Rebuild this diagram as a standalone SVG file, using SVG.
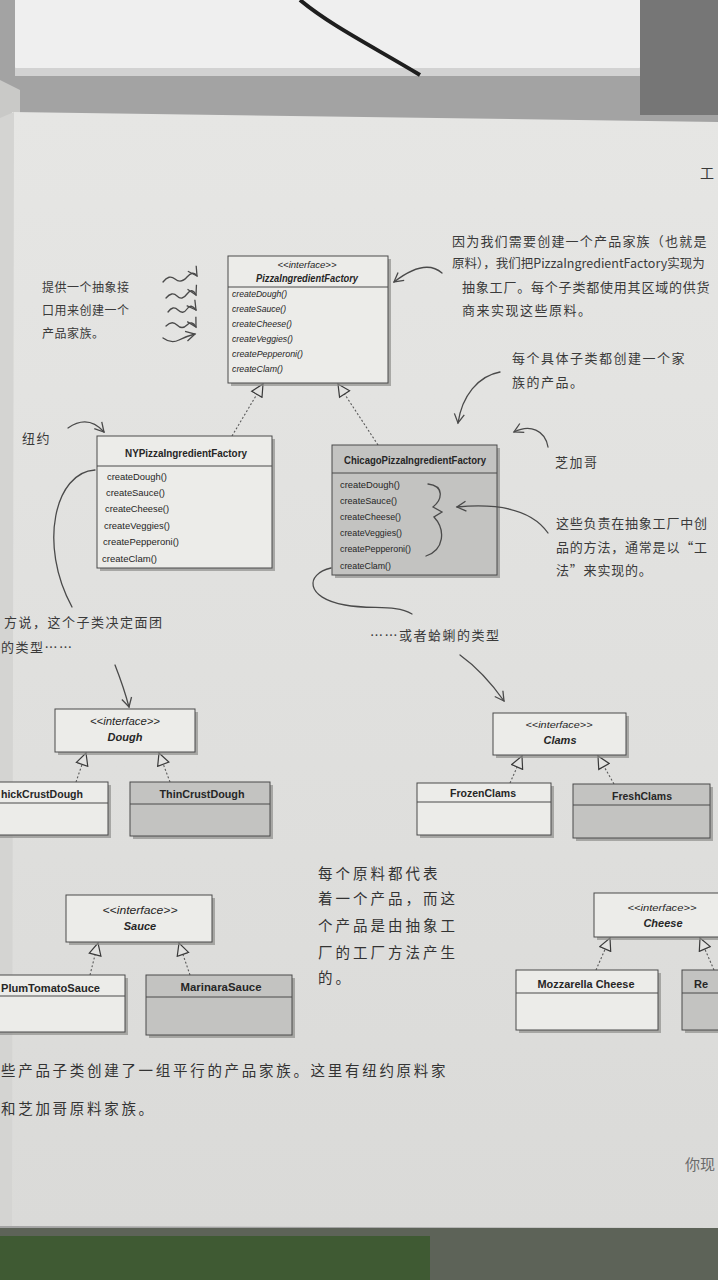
<svg xmlns="http://www.w3.org/2000/svg" width="718" height="1280" viewBox="0 0 718 1280">
<style>
.box{fill:#ecece9;stroke:#4a4a4a;stroke-width:1}
.gbox{fill:#c3c3c1;stroke:#4a4a4a;stroke-width:1}
.shd{fill:#8e8e8c;opacity:0.7}
.div{stroke:#4a4a4a;stroke-width:1}
.t{font-family:"Liberation Sans",Arial,sans-serif;fill:#262626}
.tb{font-weight:bold;font-size:11px}
.ti{font-style:italic;font-size:9.5px}
.m{font-size:9.5px}
.real{fill:none;stroke:#5a5a5a;stroke-width:1.1;stroke-dasharray:2 2}
.hand{fill:none;stroke:#4a4a4a;stroke-width:1.3;stroke-linecap:round}
.cn{font-family:"Noto Sans CJK SC","Noto Sans",sans-serif;fill:#3a3a3a;font-size:13px;letter-spacing:1.5px}
.cn2{font-family:"Noto Sans CJK SC","Noto Sans",sans-serif;fill:#333;font-size:14.5px;letter-spacing:3px}
</style>
<defs>
<marker id="tri" markerUnits="userSpaceOnUse" markerWidth="14" markerHeight="14" refX="12" refY="6" orient="auto" viewBox="-1 -1 14 14">
<path d="M0,0 L12,6 L0,12 Z" fill="#e3e3e1" stroke="#3a3a3a" stroke-width="1.2"/>
</marker>
<marker id="ah" markerUnits="userSpaceOnUse" markerWidth="12" markerHeight="12" refX="9" refY="5" orient="auto" viewBox="-1 -1 12 12">
<path d="M0,0 L9,5 L0,10" fill="none" stroke="#4a4a4a" stroke-width="1.3"/>
</marker>
<linearGradient id="pg" x1="0" y1="0" x2="0" y2="1">
<stop offset="0" stop-color="#e6e6e4"/>
<stop offset="1" stop-color="#dadad8"/>
</linearGradient>
</defs>

<g id="background">
<rect x="0" y="0" width="718" height="1280" fill="#a3a3a3"/>
<rect x="15" y="-10" width="625" height="85" rx="8" fill="#efefef"/>
<rect x="15" y="68" width="625" height="8" fill="#d2d2d2"/>
<rect x="640" y="0" width="78" height="115" fill="#767676"/>
<path d="M300,0 C330,25 370,45 420,75" fill="none" stroke="#1e1e1e" stroke-width="4"/>
<path d="M0,80 L20,90 L20,1200 L0,1205 Z" fill="#c9c9c7"/>
<path d="M12,112 L718,122 L718,1228 L10,1226 Z" fill="url(#pg)"/>
<path d="M0,118 L14,112 L12,1226 L0,1226 Z" fill="#d4d4d2"/>
<rect x="0" y="1228" width="718" height="52" fill="#5d6358"/>
<rect x="0" y="1236" width="430" height="44" fill="#3f5a33"/>
<text x="700" y="178" class="cn" style="font-size:14px;letter-spacing:0">工</text>
<text x="685" y="1170" class="cn" style="font-size:15px;letter-spacing:0;fill:#6a6a6a">你现</text>
</g>

<g id="connectors">
<path class="real" d="M232,436 L263,384" marker-end="url(#tri)"/>
<path class="real" d="M378,445 L338,384" marker-end="url(#tri)"/>
<path class="real" d="M76,782 L86,753" marker-end="url(#tri)"/>
<path class="real" d="M170,782 L159,753" marker-end="url(#tri)"/>
<path class="real" d="M510,783 L522,756" marker-end="url(#tri)"/>
<path class="real" d="M614,784 L598,756" marker-end="url(#tri)"/>
<path class="real" d="M90,975 L98,943" marker-end="url(#tri)"/>
<path class="real" d="M190,975 L179,943" marker-end="url(#tri)"/>
<path class="real" d="M596,970 L610,938" marker-end="url(#tri)"/>
<path class="real" d="M714,970 L700,938" marker-end="url(#tri)"/>
</g>

<g id="PizzaIngredientFactory">
<rect class="shd" x="231" y="259" width="160" height="127"/>
<rect class="box" x="228" y="256" width="160" height="127"/>
<line class="div" x1="228" y1="287" x2="388" y2="287"/>
<text class="t ti" x="307" y="268" text-anchor="middle" textLength="59" lengthAdjust="spacingAndGlyphs">&lt;&lt;interface&gt;&gt;</text>
<text class="t tb" x="307" y="282" text-anchor="middle" font-style="italic" textLength="102" lengthAdjust="spacingAndGlyphs" style="font-size:10px">PizzaIngredientFactory</text>
<text class="t ti" x="232" y="297" textLength="55" lengthAdjust="spacingAndGlyphs">createDough()</text>
<text class="t ti" x="232" y="312" textLength="54" lengthAdjust="spacingAndGlyphs">createSauce()</text>
<text class="t ti" x="232" y="327" textLength="60" lengthAdjust="spacingAndGlyphs">createCheese()</text>
<text class="t ti" x="232" y="342" textLength="61" lengthAdjust="spacingAndGlyphs">createVeggies()</text>
<text class="t ti" x="232" y="357" textLength="71" lengthAdjust="spacingAndGlyphs">createPepperoni()</text>
<text class="t ti" x="232" y="372" textLength="51" lengthAdjust="spacingAndGlyphs">createClam()</text>
</g>

<g id="NYPizzaIngredientFactory">
<rect class="shd" x="100" y="439" width="175" height="132"/>
<rect class="box" x="97" y="436" width="175" height="132"/>
<line class="div" x1="97" y1="466" x2="272" y2="466"/>
<text class="t tb" x="186" y="457" text-anchor="middle" textLength="122" lengthAdjust="spacingAndGlyphs">NYPizzaIngredientFactory</text>
<text class="t m" x="107" y="480" textLength="60" lengthAdjust="spacingAndGlyphs">createDough()</text>
<text class="t m" x="106" y="496" textLength="59" lengthAdjust="spacingAndGlyphs">createSauce()</text>
<text class="t m" x="105" y="512" textLength="64" lengthAdjust="spacingAndGlyphs">createCheese()</text>
<text class="t m" x="104" y="529" textLength="66" lengthAdjust="spacingAndGlyphs">createVeggies()</text>
<text class="t m" x="103" y="545" textLength="76" lengthAdjust="spacingAndGlyphs">createPepperoni()</text>
<text class="t m" x="102" y="562" textLength="55" lengthAdjust="spacingAndGlyphs">createClam()</text>
</g>

<g id="ChicagoPizzaIngredientFactory">
<rect class="shd" x="335" y="448" width="165" height="130"/>
<rect class="gbox" x="332" y="445" width="165" height="130"/>
<line class="div" x1="332" y1="473" x2="497" y2="473"/>
<text class="t tb" x="415" y="464" text-anchor="middle" textLength="142" lengthAdjust="spacingAndGlyphs">ChicagoPizzaIngredientFactory</text>
<text class="t m" x="340" y="488" textLength="60" lengthAdjust="spacingAndGlyphs">createDough()</text>
<text class="t m" x="340" y="504" textLength="57" lengthAdjust="spacingAndGlyphs">createSauce()</text>
<text class="t m" x="340" y="520" textLength="61" lengthAdjust="spacingAndGlyphs">createCheese()</text>
<text class="t m" x="340" y="536" textLength="62" lengthAdjust="spacingAndGlyphs">createVeggies()</text>
<text class="t m" x="340" y="552" textLength="71" lengthAdjust="spacingAndGlyphs">createPepperoni()</text>
<text class="t m" x="340" y="569" textLength="51" lengthAdjust="spacingAndGlyphs">createClam()</text>
</g>

<g id="Dough">
<rect class="shd" x="58" y="712" width="140" height="43"/>
<rect class="box" x="55" y="709" width="140" height="43"/>
<text class="t ti" x="125" y="725" text-anchor="middle" textLength="70" lengthAdjust="spacingAndGlyphs" style="font-size:10.5px">&lt;&lt;interface&gt;&gt;</text>
<text class="t tb" x="125" y="741" text-anchor="middle" font-style="italic">Dough</text>
</g>

<g id="ThickCrustDough">
<rect class="shd" x="-7" y="785" width="118" height="53"/>
<rect class="box" x="-10" y="782" width="118" height="53"/>
<line class="div" x1="-10" y1="803" x2="108" y2="803"/>
<text class="t tb" x="1" y="798" textLength="82" lengthAdjust="spacingAndGlyphs">hickCrustDough</text>
</g>

<g id="ThinCrustDough">
<rect class="shd" x="133" y="785" width="140" height="54"/>
<rect class="gbox" x="130" y="782" width="140" height="54"/>
<line class="div" x1="130" y1="804" x2="270" y2="804"/>
<text class="t tb" x="202" y="798" text-anchor="middle" textLength="85" lengthAdjust="spacingAndGlyphs">ThinCrustDough</text>
</g>

<g id="Clams">
<rect class="shd" x="496" y="716" width="133" height="42"/>
<rect class="box" x="493" y="713" width="133" height="42"/>
<text class="t ti" x="559" y="728" text-anchor="middle" textLength="67" lengthAdjust="spacingAndGlyphs">&lt;&lt;interface&gt;&gt;</text>
<text class="t tb" x="560" y="744" text-anchor="middle" font-style="italic">Clams</text>
</g>

<g id="FrozenClams">
<rect class="shd" x="420" y="786" width="134" height="52"/>
<rect class="box" x="417" y="783" width="134" height="52"/>
<line class="div" x1="417" y1="802" x2="551" y2="802"/>
<text class="t tb" x="483" y="797" text-anchor="middle" textLength="66" lengthAdjust="spacingAndGlyphs">FrozenClams</text>
</g>

<g id="FreshClams">
<rect class="shd" x="576" y="787" width="137" height="54"/>
<rect class="gbox" x="573" y="784" width="137" height="54"/>
<line class="div" x1="573" y1="805" x2="710" y2="805"/>
<text class="t tb" x="642" y="800" text-anchor="middle" textLength="60" lengthAdjust="spacingAndGlyphs">FreshClams</text>
</g>

<g id="Sauce">
<rect class="shd" x="69" y="898" width="146" height="47"/>
<rect class="box" x="66" y="895" width="146" height="47"/>
<text class="t ti" x="140" y="914" text-anchor="middle" textLength="75" lengthAdjust="spacingAndGlyphs" style="font-size:10.5px">&lt;&lt;interface&gt;&gt;</text>
<text class="t tb" x="140" y="930" text-anchor="middle" font-style="italic">Sauce</text>
</g>

<g id="PlumTomatoSauce">
<rect class="shd" x="-7" y="978" width="135" height="57"/>
<rect class="box" x="-10" y="975" width="135" height="57"/>
<line class="div" x1="-10" y1="996" x2="125" y2="996"/>
<text class="t tb" x="1" y="992" textLength="99" lengthAdjust="spacingAndGlyphs">PlumTomatoSauce</text>
</g>

<g id="MarinaraSauce">
<rect class="shd" x="149" y="978" width="146" height="60"/>
<rect class="gbox" x="146" y="975" width="146" height="60"/>
<line class="div" x1="146" y1="997" x2="292" y2="997"/>
<text class="t tb" x="221" y="991" text-anchor="middle" textLength="81" lengthAdjust="spacingAndGlyphs">MarinaraSauce</text>
</g>

<g id="Cheese">
<rect class="shd" x="597" y="896" width="136" height="44"/>
<rect class="box" x="594" y="893" width="136" height="44"/>
<text class="t ti" x="662" y="911" text-anchor="middle" textLength="69" lengthAdjust="spacingAndGlyphs">&lt;&lt;interface&gt;&gt;</text>
<text class="t tb" x="663" y="927" text-anchor="middle" font-style="italic">Cheese</text>
</g>

<g id="MozzarellaCheese">
<rect class="shd" x="519" y="973" width="142" height="60"/>
<rect class="box" x="516" y="970" width="142" height="60"/>
<line class="div" x1="516" y1="993" x2="658" y2="993"/>
<text class="t tb" x="586" y="988" text-anchor="middle" textLength="97" lengthAdjust="spacingAndGlyphs">Mozzarella Cheese</text>
</g>

<g id="ReggianoCheese">
<rect class="shd" x="685" y="973" width="50" height="60"/>
<rect class="gbox" x="682" y="970" width="50" height="60"/>
<line class="div" x1="682" y1="993" x2="732" y2="993"/>
<text class="t tb" x="694" y="988">Re</text>
</g>

<g id="annotations">
<text class="cn" style="font-size:12px;letter-spacing:0.5px"><tspan x="42" y="292">提供一个抽象接</tspan><tspan x="42" y="315">口用来创建一个</tspan><tspan x="42" y="338">产品家族。</tspan></text>
<path class="hand" d="M163,282 q6,-8 12,-3 t12,-2 t10,-1" marker-end="url(#ah)"/>
<path class="hand" d="M166,298 q6,-7 11,-2 t10,-2 t9,1" marker-end="url(#ah)"/>
<path class="hand" d="M168,312 q5,-7 10,-2 t9,-1 t9,1" marker-end="url(#ah)"/>
<path class="hand" d="M166,326 q6,-6 11,-1 t10,0 t9,2" marker-end="url(#ah)"/>
<path class="hand" d="M163,338 q8,6 16,2 t16,-6" marker-end="url(#ah)"/>

<text class="cn" x="452" y="246" style="letter-spacing:1.2px">因为我们需要创建一个产品家族（也就是</text>
<text class="cn" x="452" y="268" style="font-size:12.5px;letter-spacing:0">原料），我们把PizzaIngredientFactory实现为</text>
<text class="cn" x="462" y="292" style="letter-spacing:0.8px">抽象工厂。每个子类都使用其区域的供货</text>
<text class="cn" x="462" y="315">商来实现这些原料。</text>
<path class="hand" d="M442,273 Q425,258 394,282" marker-end="url(#ah)"/>

<text class="cn"><tspan x="512" y="363">每个具体子类都创建一个家</tspan><tspan x="512" y="387">族的产品。</tspan></text>
<path class="hand" d="M500,372 C478,376 462,396 458,423" marker-end="url(#ah)"/>

<text class="cn" x="555" y="467">芝加哥</text>
<path class="hand" d="M548,447 C545,430 530,424 514,432" marker-end="url(#ah)"/>

<text class="cn" x="22" y="443">纽约</text>
<path class="hand" d="M68,428 Q88,414 104,432" marker-end="url(#ah)"/>

<path class="hand" d="M428,484 C445,486 442,500 433,507 L442,512 L434,517 C446,530 444,550 426,556"/>
<text class="cn" style="letter-spacing:0.8px"><tspan x="556" y="528">这些负责在抽象工厂中创</tspan><tspan x="556" y="552">品的方法，通常是以“工</tspan><tspan x="556" y="575">法”来实现的。</tspan></text>
<path class="hand" d="M548,533 C532,510 500,503 457,507" marker-end="url(#ah)"/>

<path class="hand" d="M95,470 C55,472 38,545 72,607"/>
<text class="cn"><tspan x="4" y="627">方说，这个子类决定面团</tspan><tspan x="1" y="652">的类型……</tspan></text>
<path class="hand" d="M115,665 Q124,688 129,707" marker-end="url(#ah)"/>

<path class="hand" d="M331,568 C305,574 305,598 345,605 C372,610 395,604 412,614"/>
<text class="cn" x="370" y="640">……或者蛤蜊的类型</text>
<path class="hand" d="M460,655 C478,668 492,684 504,701" marker-end="url(#ah)"/>

<text class="cn2"><tspan x="318" y="879">每个原料都代表</tspan><tspan x="318" y="904">着一个产品，而这</tspan><tspan x="318" y="931">个产品是由抽象工</tspan><tspan x="318" y="958">厂的工厂方法产生</tspan><tspan x="318" y="983">的。</tspan></text>

<text class="cn2" style="letter-spacing:2.7px"><tspan x="1" y="1076">些产品子类创建了一组平行的产品家族。这里有纽约原料家</tspan><tspan x="1" y="1114">和芝加哥原料家族。</tspan></text>
</g>
</svg>
